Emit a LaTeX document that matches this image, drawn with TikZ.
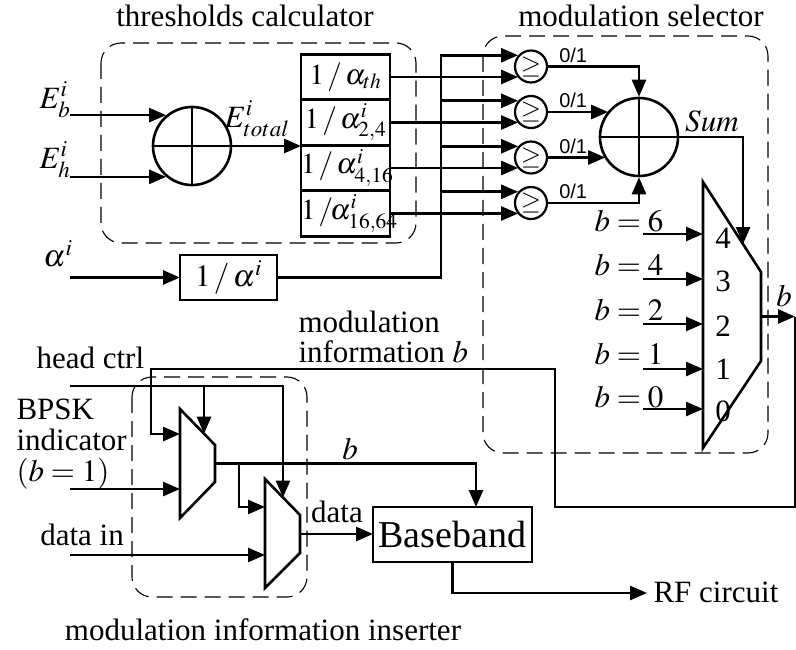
\documentclass[tikz,border=0pt]{standalone}
\usepackage{mathptmx}
\usepackage{fontspec}
\setmainfont{Liberation Serif}
\newfontfamily\sanslbl{Liberation Sans}
\usetikzlibrary{arrows.meta,positioning,calc}

\begin{document}
\begin{tikzpicture}[x=1pt,y=-1pt,
    font=\fontsize{31}{31}\selectfont,
    wire/.style={line width=2.6pt},
    arr/.style={wire,-{Triangle[length=17pt,width=14pt]}},
    blk/.style={draw,line width=2.6pt,inner sep=0pt,outer sep=0pt},
    thbox/.style={blk,text width=89pt,align=center,minimum height=45.5pt,font=\fontsize{29}{29}\selectfont},
    adder/.style={draw,circle,line width=2.6pt,minimum size=78pt,inner sep=0pt},
    cmp/.style={draw,circle,line width=2.2pt,minimum size=32pt,inner sep=0pt,font=\fontsize{26}{26}\selectfont},
    group/.style={draw,line width=1.1pt,dash pattern=on 16pt off 8pt,rounded corners=20pt},
    bitlbl/.style={font=\sanslbl\fontsize{20}{20}\selectfont,anchor=south west,inner sep=1pt}
  ]
  \useasboundingbox (0,0) rectangle (796,650);

  % thresholds calculator
  \draw[group] (101,43) rectangle (416,243);
  \node (tcTitle) at (245,16) {thresholds calculator};
  \node[adder] (sumL) at (192,146) {};
  \draw[wire] (sumL.north) -- (sumL.south);
  \draw[wire] (sumL.west) -- (sumL.east);
  \coordinate (inL) at (70,0);
  \node (Eb) at (55,100) {$E^i_b$};
  \node (Eh) at (55,160) {$E^i_h$};
  \draw[arr] (sumL.130 -| inL) -- (sumL.130);
  \draw[arr] (sumL.230 -| inL) -- (sumL.230);

  \node[thbox] (th1) at (345.5,77) {$1\,/\,\alpha_{th}$};
  \node[thbox] (th2) at (345.5,122.5) {$1\,/\,\alpha^i_{2,4}$};
  \node[thbox] (th3) at (345.5,168) {$1\,/\,\alpha^i_{4,16}$};
  \node[thbox] (th4) at (345.5,213.5) {$1\,/\!\alpha^i_{16,64}$};
  \draw[arr] (sumL.east) -- (sumL.east -| th2.south west);
  \node (Etot) at (257,119) {$E^i_{total}$};

  \node (alpha) at (58,254) {$\alpha^i$};
  \node[blk,minimum width=97pt,minimum height=45pt] (ainv) at (228.5,277.5) {$1\,/\,\alpha^i$};
  \draw[arr] (ainv.west -| inL) -- (ainv.west);

  % modulation selector
  \draw[group] (483,36) rectangle (768,453);
  \node (msTitle) at (641,16) {modulation selector};
  \node[cmp] (c1) at (531,66.5) {$\geq$};
  \node[cmp] (c2) at (531,112) {$\geq$};
  \node[cmp] (c3) at (531,157.5) {$\geq$};
  \node[cmp] (c4) at (531,203) {$\geq$};

  \coordinate (bus) at (441,0);
  \draw[arr] (ainv.east) -| (bus |- c1.139) -- (c1.139);
  \draw[arr] (bus |- c2.139) -- (c2.139);
  \draw[arr] (bus |- c3.139) -- (c3.139);
  \draw[arr] (bus |- c4.139) -- (c4.139);
  \draw[arr] (th1.east) -- (th1.east -| c1.221);
  \draw[arr] (th2.east) -- (th2.east -| c2.221);
  \draw[arr] (th3.east) -- (th3.east -| c3.221);
  \draw[arr] (th4.east) -- (th4.east -| c4.221);

  \node[adder] (sumR) at (639,137) {};
  \draw[wire] (sumR.north) -- (sumR.south);
  \draw[wire] (sumR.west) -- (sumR.east);
  \draw[arr] (c1.east) -| (sumR.north);
  \draw[arr] (c2.east) -- (c2.east -| sumR.140);
  \draw[arr] (c3.east) -- (c3.east -| sumR.213);
  \draw[arr] (c4.east) -| (sumR.south);
  \node[bitlbl] (bit1) at ([xshift=10pt,yshift=3pt]c1.east) {0/1};
  \node[bitlbl] (bit2) at ([xshift=10pt,yshift=3pt]c2.east) {0/1};
  \node[bitlbl] (bit3) at ([xshift=10pt,yshift=3pt]c3.east) {0/1};
  \node[bitlbl] (bit4) at ([xshift=10pt,yshift=3pt]c4.east) {0/1};
  \node (sumTxt) at (712,121) {$Sum$};

  \coordinate (mR1) at (703,182);
  \coordinate (mR2) at (761,272);
  \coordinate (mR3) at (761,361);
  \coordinate (mR4) at (703,448);
  \draw[wire,line join=miter] (mR1) -- (mR2) -- (mR3) -- (mR4) -- cycle;
  \coordinate (sumIn) at ($(mR1)!0.69!(mR2)$);
  \draw[arr] (sumR.east) -| (sumIn);

  \coordinate (selFree) at (643,0);
  \coordinate (sel4) at (703,234);
  \coordinate (sel3) at (703,279);
  \coordinate (sel2) at (703,324);
  \coordinate (sel1) at (703,369);
  \coordinate (sel0) at (703,409);
  \draw[arr] (sel4 -| selFree) -- (sel4);
  \draw[arr] (sel3 -| selFree) -- (sel3);
  \draw[arr] (sel2 -| selFree) -- (sel2);
  \draw[arr] (sel1 -| selFree) -- (sel1);
  \draw[arr] (sel0 -| selFree) -- (sel0);
  \node (bsix) at (629,221) {$b = 6$};
  \node (bfour) at (629,265) {$b = 4$};
  \node (btwo) at (629,310) {$b = 2$};
  \node (bone) at (629,354) {$b = 1$};
  \node (bzero) at (629,397) {$b = 0$};
  \node (n4) at (723,238) {4};
  \node (n3) at (723,281) {3};
  \node (n2) at (723,326) {2};
  \node (n1) at (723,369) {1};
  \node (n0) at (723,411) {0};

  \coordinate (selOut) at ($(mR2)!0.5!(mR3)$);
  \coordinate (bRight) at (795,0);
  \draw[arr] (selOut) -- (selOut -| bRight);
  \node (bLbl) at (784,296) {$b$};

  % modulation information inserter
  \draw[group] (132,377) rectangle (307,597);
  \node (miTitle) at (263,630) {modulation information inserter};
  \node[align=left,anchor=west,font=\fontsize{31}{30}\selectfont] (modInfo) at (295,337) {modulation\\information $b$};

  \coordinate (mA1) at (180,409);
  \coordinate (mA2) at (215,445);
  \coordinate (mA3) at (215,482);
  \coordinate (mA4) at (180,518);
  \draw[wire,line join=miter] (mA1) -- (mA2) -- (mA3) -- (mA4) -- cycle;
  \coordinate (mB1) at (265,479);
  \coordinate (mB2) at (300,515);
  \coordinate (mB3) at (300,553);
  \coordinate (mB4) at (265,588);
  \draw[wire,line join=miter] (mB1) -- (mB2) -- (mB3) -- (mB4) -- cycle;

  \coordinate (fbLow) at (555,507);
  \coordinate (fbUp) at (555,369);
  \coordinate (fbLeft) at (151,369);
  \coordinate (mAfb) at (180,434);
  \draw[arr] (selOut -| bRight) |- (fbLow) -- (fbUp) -- (fbLeft) |- (mAfb);

  \node[anchor=west] (hc) at (33,358) {head ctrl};
  \coordinate (hcStart) at (70,386);
  \coordinate (mBtop) at ($(mB1)!0.514!(mB2)$);
  \coordinate (mAtop) at ($(mA1)!0.686!(mA2)$);
  \draw[arr] (hcStart) -| (mBtop);
  \draw[arr] (hcStart -| mAtop) -- (mAtop);

  \node[align=left,anchor=west,font=\fontsize{31}{31}\selectfont] (bpsk) at (13,444) {BPSK\\indicator\\$(b=1)$};
  \coordinate (mAin) at (180,489);
  \draw[arr] (mAin -| inL) -- (mAin);

  \node[blk,minimum width=159pt,minimum height=55pt,font=\fontsize{38}{38}\selectfont] (bb) at (452.5,534.5) {Baseband};
  \coordinate (mAOut) at ($(mA2)!0.5!(mA3)$);
  \coordinate (bbTop) at (476,0);
  \draw[arr] (mAOut) -| (bbTop |- bb.north);
  \node (bLbl2) at (350,449) {$b$};
  \coordinate (brX) at (239,0);
  \coordinate (mBin) at (265,507);
  \draw[arr] (mAOut -| brX) |- (mBin);

  \node (dataIn) at (82,535) {data in};
  \coordinate (mBdata) at (265,555);
  \draw[arr] (mBdata -| inL) -- (mBdata);
  \coordinate (mBOut) at ($(mB2)!0.5!(mB3)$);
  \draw[arr] (mBOut) -- (mBOut -| bb.west);
  \node (dataLbl) at (337,512) {data};

  \coordinate (rf) at (647,593);
  \draw[arr] (bb.south) |- (rf);
  \node[anchor=west] (rfLbl) at (650,592) {RF circuit};
\end{tikzpicture}
\end{document}
